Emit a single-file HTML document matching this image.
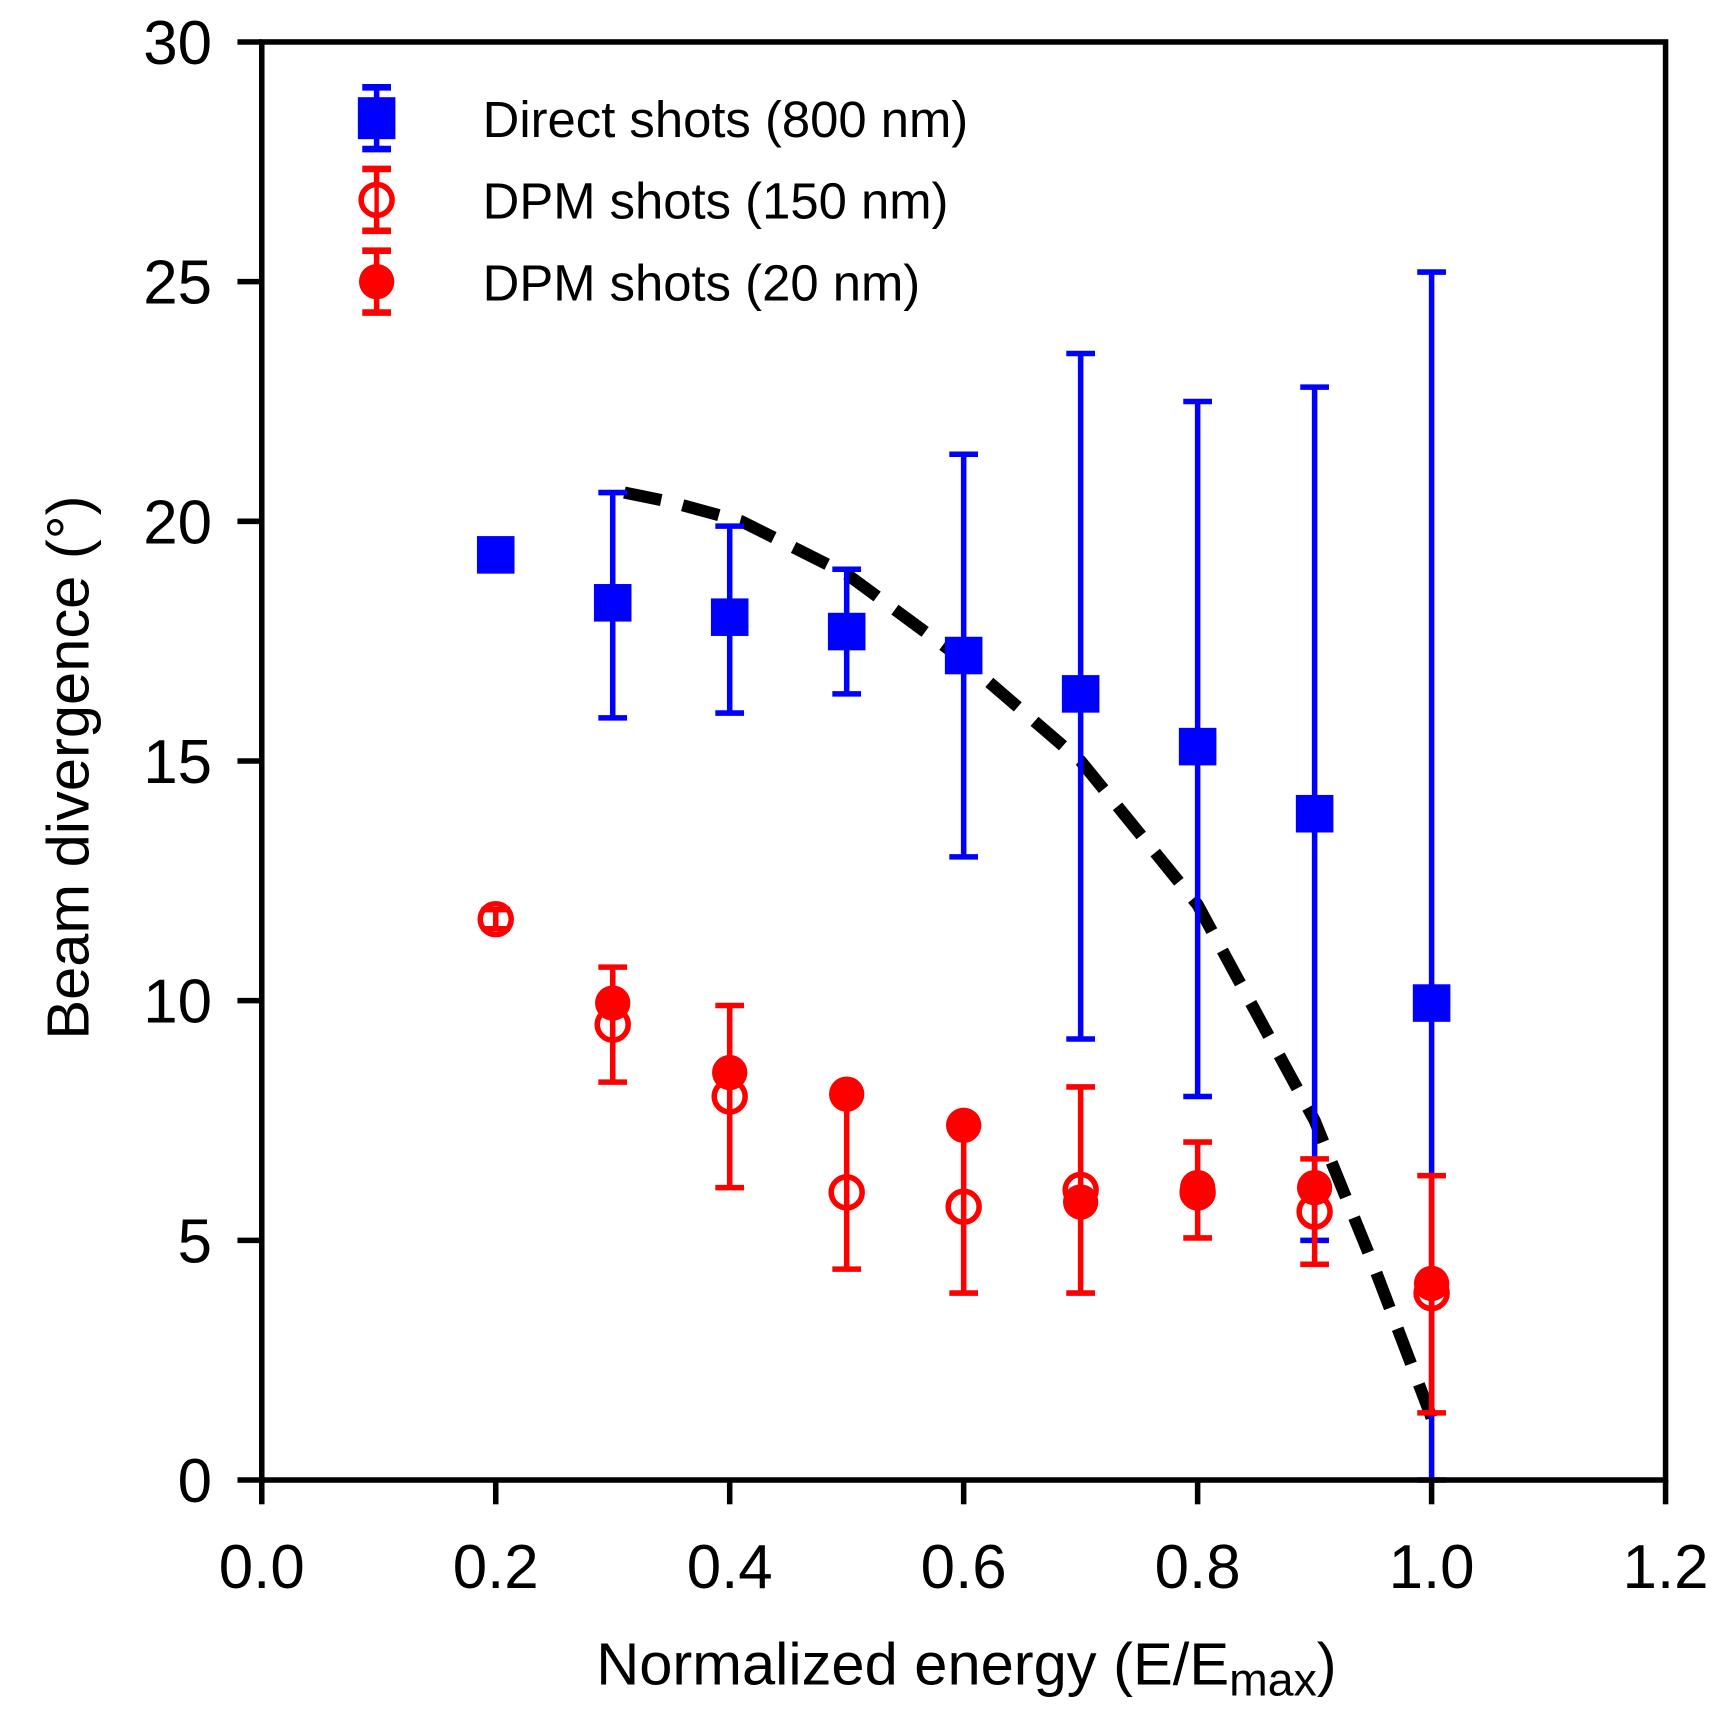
<!DOCTYPE html>
<html><head><meta charset="utf-8"><style>html,body{margin:0;padding:0;background:#fff}svg{display:block}</style></head>
<body>
<svg id="chart" width="1723" height="1723" viewBox="0 0 1560 1560" xmlns="http://www.w3.org/2000/svg" font-family="'Liberation Sans', 'DejaVu Sans', sans-serif">
<g id="plot"></g>
</svg>
<script>
const xCats = [0.2,0.3,0.4,0.5,0.6,0.7,0.8,0.9,1.0];
const directVals = [19.3,18.3,18.0,17.7,17.2,16.4,15.3,13.9,9.95];
const directLo = [19.3,15.9,16.0,16.4,13.0,9.2,8.0,5.0,0];
const directHi = [19.3,20.6,19.9,19.0,21.4,23.5,22.5,22.8,25.2];
const dpm150Vals = [11.7,9.5,8.0,6.0,5.7,6.05,6.0,5.6,3.9];
const dpm150Lo = [11.5,8.3,6.1,4.4,3.9,3.9,5.05,4.5,1.4];
const dpm150Hi = [11.9,10.7,9.9,7.9,7.4,8.2,7.05,6.7,6.35];
const dpm20X = [0.3,0.4,0.5,0.6,0.7,0.8,0.9,1.0];
const dpm20Vals = [9.95,8.5,8.05,7.4,5.8,6.1,6.1,4.1];
const fitX = [0.31,0.35,0.41,0.5,0.6,0.7,0.8,0.9,0.95,1.0];
const fitY = [20.6,20.4,20.0,18.9,17.1,15.0,12.0,7.5,4.5,1.3];
const xTicks = ["0.0","0.2","0.4","0.6","0.8","1.0","1.2"];
const yTicks = ["0","5","10","15","20","25","30"];

const NS="http://www.w3.org/2000/svg";
const L=237,R=1508,T=38,B=1340;
const xs=v=>L+(v/1.2)*(R-L);
const ys=v=>B-(v/30)*(B-T);
const g=document.getElementById('plot');
function mk(tag,attrs,parent){const e=document.createElementNS(NS,tag);for(const k in attrs)e.setAttribute(k,attrs[k]);(parent||g).appendChild(e);return e;}

let d=fitX.map((x,i)=>(i?'L':'M')+xs(x)+','+ys(fitY[i])).join(' ');
const fit=mk('path',{d:d,fill:'none',stroke:'#000','stroke-width':11,'stroke-dasharray':'34,20'});



function errbar(x,lo,hi,col,name){
  const gg=mk('g',{});
  
  
  const cx=xs(x);
  mk('line',{x1:cx,x2:cx,y1:ys(lo),y2:ys(hi),stroke:col,'stroke-width':5},gg);
  mk('line',{x1:cx-13,x2:cx+13,y1:ys(lo),y2:ys(lo),stroke:col,'stroke-width':5},gg);
  mk('line',{x1:cx-13,x2:cx+13,y1:ys(hi),y2:ys(hi),stroke:col,'stroke-width':5},gg);
}
xCats.forEach((x,i)=>{ if(directHi[i]>directLo[i]) errbar(x,directLo[i],directHi[i],'#0000ff','direct-error-bar'); });
xCats.forEach((x,i)=>{ errbar(x,dpm150Lo[i],dpm150Hi[i],'#ff0000','dpm150-error-bar'); });
xCats.forEach((x,i)=>{
  const s=mk('rect',{x:xs(x)-17,y:ys(directVals[i])-17,width:34,height:34,fill:'#0000ff'});
  
  
});
xCats.forEach((x,i)=>{
  const c=mk('circle',{cx:xs(x),cy:ys(dpm150Vals[i]),r:14,fill:'none',stroke:'#ff0000','stroke-width':5});
  
  
});
dpm20X.forEach((x,i)=>{
  const c=mk('circle',{cx:xs(x),cy:ys(dpm20Vals[i]),r:16,fill:'#ff0000'});
  
  
});

const box=mk('rect',{x:L,y:T,width:R-L,height:B-T,fill:'none',stroke:'#000','stroke-width':5});


xTicks.forEach(t=>{
  const x=xs(parseFloat(t));
  mk('line',{x1:x,x2:x,y1:B,y2:B+22,stroke:'#000','stroke-width':5});
  const tx=mk('text',{x:x,y:B+98,'text-anchor':'middle','font-size':56});
  tx.textContent=t;
  
  
});
yTicks.forEach(t=>{
  const y=ys(parseFloat(t));
  mk('line',{x1:L-22,x2:L,y1:y,y2:y,stroke:'#000','stroke-width':5});
  const tx=mk('text',{x:L-45,y:y+20,'text-anchor':'end','font-size':56});
  tx.textContent=t;
  
  
});
const xt=mk('text',{x:875,y:1525,'text-anchor':'middle','font-size':54});
xt.innerHTML='Normalized energy (E/E<tspan dy="10" font-size="42">max</tspan><tspan dy="-10">)</tspan>';


const yt=mk('text',{x:0,y:0,'text-anchor':'middle','font-size':54,transform:'translate(80,695) rotate(-90)'});
yt.textContent='Beam divergence (°)';



const leg=[['Direct shots (800 nm)','sq'],['DPM shots (150 nm)','open'],['DPM shots (20 nm)','fill']];
leg.forEach((e,i)=>{
  const y=107+i*74;
  const gg=mk('g',{});
  
  
  const col=e[1]==='sq'?'#0000ff':'#ff0000';
  mk('line',{x1:341,x2:341,y1:y-28,y2:y+28,stroke:col,'stroke-width':5},gg);
  mk('line',{x1:328,x2:354,y1:y-28,y2:y-28,stroke:col,'stroke-width':6},gg);
  mk('line',{x1:328,x2:354,y1:y+28,y2:y+28,stroke:col,'stroke-width':6},gg);
  if(e[1]==='sq') mk('rect',{x:324,y:y-19,width:34,height:38,fill:col},gg);
  else if(e[1]==='open') mk('circle',{cx:341,cy:y,r:14,fill:'#fff',stroke:col,'stroke-width':5},gg);
  else mk('circle',{cx:341,cy:y,r:16,fill:col},gg);
  mk('line',{x1:341,x2:341,y1:y-14,y2:y+14,stroke:col,'stroke-width':4},gg);
  const tx=mk('text',{x:437,y:y+17,'font-size':46},gg);
  tx.textContent=e[0];
});
</script>
</body></html>
